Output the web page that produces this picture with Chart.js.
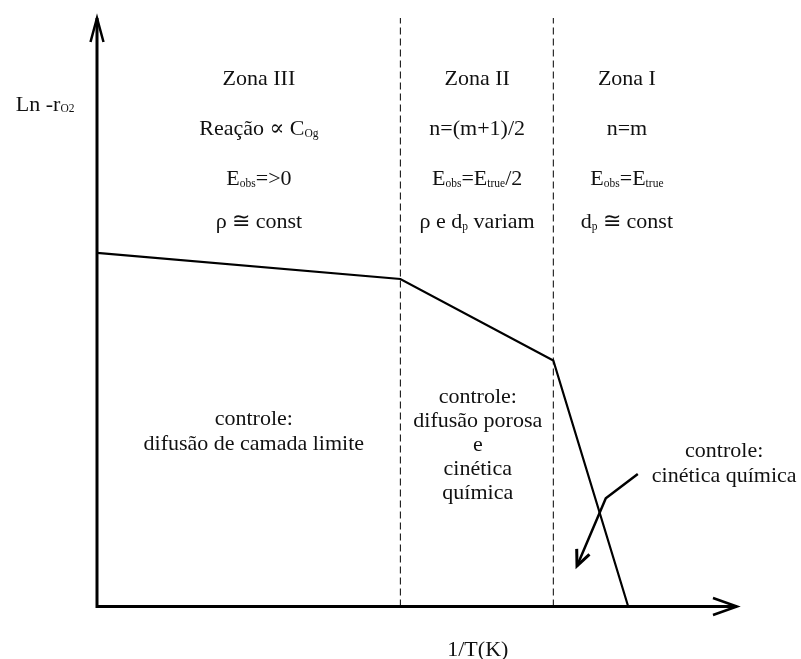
<!DOCTYPE html>
<html><head><meta charset="utf-8">
<script src="https://cdn.jsdelivr.net/npm/chart.js@4/dist/chart.umd.min.js"></script>
<style>html,body{margin:0;padding:0;background:#fff}canvas{display:block}</style>
</head><body>
<canvas id="c" width="801" height="659"></canvas>
<script>
// ---- data ----
const lineX = [0, 4.74, 7.13, 8.30];
const lineY = [6.01, 5.565, 4.18, 0];
const zoneBounds = [4.74, 7.13];
const yLabel = "Ln -r_{O2}";
const xLabel = "1/T(K)";
const zoneHeaders = [
  ["Zona III", "Reação ∝ C_{Og}", "E_{obs}=>0", "ρ ≅ const"],
  ["Zona II", "n=(m+1)/2", "E_{obs}=E_{true}/2", "ρ e d_{p} variam"],
  ["Zona I", "n=m", "E_{obs}=E_{true}", "d_{p} ≅ const"]
];
const zoneControls = [
  ["controle:", "difusão de camada limite"],
  ["controle:", "difusão porosa", "e", "cinética", "química"],
  ["controle:", "cinética química"]
];
// pointer arrow (data coords) from label to the kinetic segment
const pointerX = [8.45, 7.95, 7.50];
const pointerY = [2.25, 1.84, 0.69];

// ---- layout (data coords for text anchors) ----
const headerCx = [2.53, 5.94, 8.28];
const headerBaseY = [8.86, 8.01, 7.16, 6.43];
const controlCx = [2.45, 5.95, 9.80];
const controlBaseY = [[3.08, 2.66], [3.46, 3.05, 2.64, 2.23, 1.83], [2.54, 2.12]];

const FONT = '"Liberation Serif", "DejaVu Serif", serif';
const MAIN = 22, SUB = 11.5;

function parseRich(s) {
  const segs = [];
  const re = /_\{([^}]*)\}/g;
  let last = 0, m;
  while ((m = re.exec(s))) {
    if (m.index > last) segs.push({t: s.slice(last, m.index), sub: false});
    segs.push({t: m[1], sub: true});
    last = re.lastIndex;
  }
  if (last < s.length) segs.push({t: s.slice(last), sub: false});
  return segs;
}
function drawRich(ctx, s, cx, by) {
  const segs = parseRich(s);
  let total = 0;
  segs.forEach(g => {
    ctx.font = (g.sub ? SUB : MAIN) + 'px ' + FONT;
    g.w = ctx.measureText(g.t).width;
    total += g.w;
  });
  let x = cx - total / 2;
  ctx.textAlign = 'left';
  ctx.textBaseline = 'alphabetic';
  segs.forEach(g => {
    ctx.font = (g.sub ? SUB : MAIN) + 'px ' + FONT;
    ctx.fillText(g.t, x, by + (g.sub ? 1.5 : 0));
    x += g.w;
  });
}

const diagramPlugin = {
  id: 'diagram',
  afterDraw(chart) {
    const ctx = chart.ctx;
    const xs = chart.scales.x, ys = chart.scales.y;
    const X = v => xs.getPixelForValue(v), Y = v => ys.getPixelForValue(v);
    ctx.save();
    ctx.strokeStyle = '#000';
    ctx.fillStyle = '#111';
    ctx.lineCap = 'butt';
    // axes
    const x0 = X(0), y0 = Y(0), xMax = X(10), yMax = Y(10);
    ctx.lineWidth = 3;
    ctx.beginPath();
    ctx.moveTo(x0, y0); ctx.lineTo(x0, yMax);
    ctx.moveTo(x0 - 1.5, y0); ctx.lineTo(xMax, y0);
    ctx.stroke();
    ctx.lineWidth = 2.5;
    ctx.lineJoin = 'miter';
    ctx.beginPath();
    ctx.moveTo(x0 - 6.5, yMax + 24); ctx.lineTo(x0, yMax); ctx.lineTo(x0 + 6.5, yMax + 24);
    ctx.moveTo(xMax - 24, y0 - 8.5); ctx.lineTo(xMax, y0); ctx.lineTo(xMax - 24, y0 + 8.5);
    ctx.stroke();
    // pointer arrow
    ctx.lineWidth = 2.5;
    ctx.beginPath();
    ctx.moveTo(X(pointerX[0]), Y(pointerY[0]));
    for (let i = 1; i < pointerX.length; i++) ctx.lineTo(X(pointerX[i]), Y(pointerY[i]));
    ctx.stroke();
    const n = pointerX.length;
    const tx = X(pointerX[n-1]), ty = Y(pointerY[n-1]);
    const ang = Math.atan2(ty - Y(pointerY[n-2]), tx - X(pointerX[n-2]));
    const L = 17, a = 0.42;
    ctx.lineWidth = 3;
    ctx.beginPath();
    ctx.moveTo(tx - L * Math.cos(ang - a), ty - L * Math.sin(ang - a));
    ctx.lineTo(tx, ty);
    ctx.lineTo(tx - L * Math.cos(ang + a), ty - L * Math.sin(ang + a));
    ctx.stroke();
    // texts
    zoneHeaders.forEach((rows, zi) => rows.forEach((s, ri) => drawRich(ctx, s, X(headerCx[zi]), Y(headerBaseY[ri]))));
    zoneControls.forEach((rows, zi) => rows.forEach((s, ri) => drawRich(ctx, s, X(controlCx[zi]), Y(controlBaseY[zi][ri]))));
    drawRich(ctx, yLabel, X(-0.81), Y(8.42));
    drawRich(ctx, xLabel, X(5.95), Y(-0.84));
    ctx.restore();
  }
};

const datasets = [{
  data: lineX.map((x, i) => ({x, y: lineY[i]})),
  showLine: true, borderColor: '#000', borderWidth: 2.2, pointRadius: 0, tension: 0, fill: false
}];
zoneBounds.forEach(b => datasets.push({
  data: [{x: b, y: 0}, {x: b, y: 10}],
  showLine: true, borderColor: '#000', borderWidth: 1, borderDash: [7, 4], pointRadius: 0, fill: false
}));

new Chart(document.getElementById('c'), {
  type: 'scatter',
  data: {datasets},
  options: {
    responsive: false, animation: false, devicePixelRatio: 1,
    layout: {padding: {left: 97, right: 64, top: 18, bottom: 52.5}},
    plugins: {legend: {display: false}, tooltip: {enabled: false}},
    scales: {
      x: {type: 'linear', min: 0, max: 10, display: false},
      y: {type: 'linear', min: 0, max: 10, display: false}
    }
  },
  plugins: [diagramPlugin]
});
</script>
</body></html>
